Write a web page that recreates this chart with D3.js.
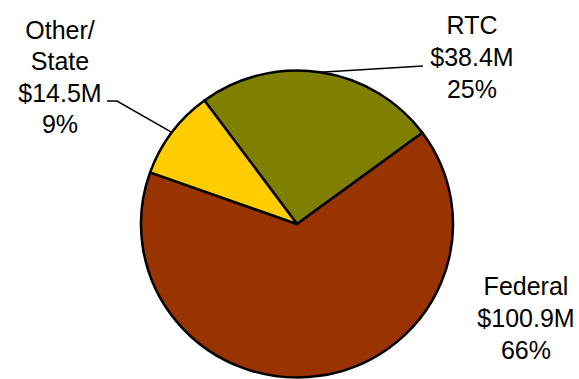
<!DOCTYPE html>
<html>
<head>
<meta charset="utf-8">
<script src="https://cdn.jsdelivr.net/npm/d3@7"></script>
<style>
  body { margin: 0; background: #fff; }
  text { font-family: "Liberation Sans", Arial, sans-serif; fill: #000; }
</style>
</head>
<body>
<div id="chart"></div>
<script>
// data
const sources = ["RTC", "Federal", "Other/State"];
const amounts = [38.4, 100.9, 14.5];
const labelLines = [["RTC"], ["Federal"], ["Other/", "State"]];
const colors = ["#808000", "#993300", "#FFCC00"];

const width = 579, height = 379;
const cx = 297, cy = 224, r = 156, yScale = 153.5 / 156;

const svg = d3.select("#chart").append("svg")
  .attr("width", width)
  .attr("height", height);

const data = sources.map((s, i) => ({name: s, value: amounts[i], lines: labelLines[i], color: colors[i]}));
const total = d3.sum(amounts);
const fmtPct = d3.format(".0%");

const pie = d3.pie().sort(null).value(d => d.value)
  .startAngle(-36.4 * Math.PI / 180)
  .endAngle((360 - 36.4) * Math.PI / 180);
const arc = d3.arc().innerRadius(0).outerRadius(r);
const arcs = pie(data);

const g = svg.append("g")
  .attr("transform", `translate(${cx},${cy}) scale(1,${yScale})`);

g.selectAll("path").data(arcs).join("path")
  .attr("d", arc)
  .attr("fill", d => d.data.color)
  .attr("stroke", "#000")
  .attr("stroke-width", 2.5)
  .attr("vector-effect", "non-scaling-stroke")
  .attr("stroke-linejoin", "round");

// label layout (offsets from pie centre), leader end point where needed
const labelPos = {
  "RTC": {x: 175, y: -190, leader: [[126, -158]]},
  "Federal": {x: 229, y: 71, leader: null},
  "Other/State": {x: -237, y: -185, leader: [[-180, -123], [-190, -123]]}
};

const lineH = 32;
arcs.forEach(a => {
  const p = labelPos[a.data.name];
  const lines = [...a.data.lines, `$${a.data.value.toFixed(1)}M`, fmtPct(a.data.value / total)];
  const t = svg.append("text")
    .attr("text-anchor", "middle")
    .attr("font-size", "25px");
  lines.forEach((l, i) => {
    t.append("tspan")
      .attr("x", cx + p.x)
      .attr("y", cy + p.y + i * (a.data.lines.length > 1 ? 31.3 : lineH))
      .text(l);
  });
  if (p.leader) {
    const mid = (a.startAngle + a.endAngle) / 2;
    const start = [cx + Math.sin(mid) * r, cy - Math.cos(mid) * r * yScale];
    const pts = [start, ...p.leader.map(q => [cx + q[0], cy + q[1]])];
    svg.append("path")
      .attr("d", d3.line()(pts))
      .attr("fill", "none")
      .attr("stroke", "#000")
      .attr("stroke-width", 1.5);
  }
});
</script>
</body>
</html>
